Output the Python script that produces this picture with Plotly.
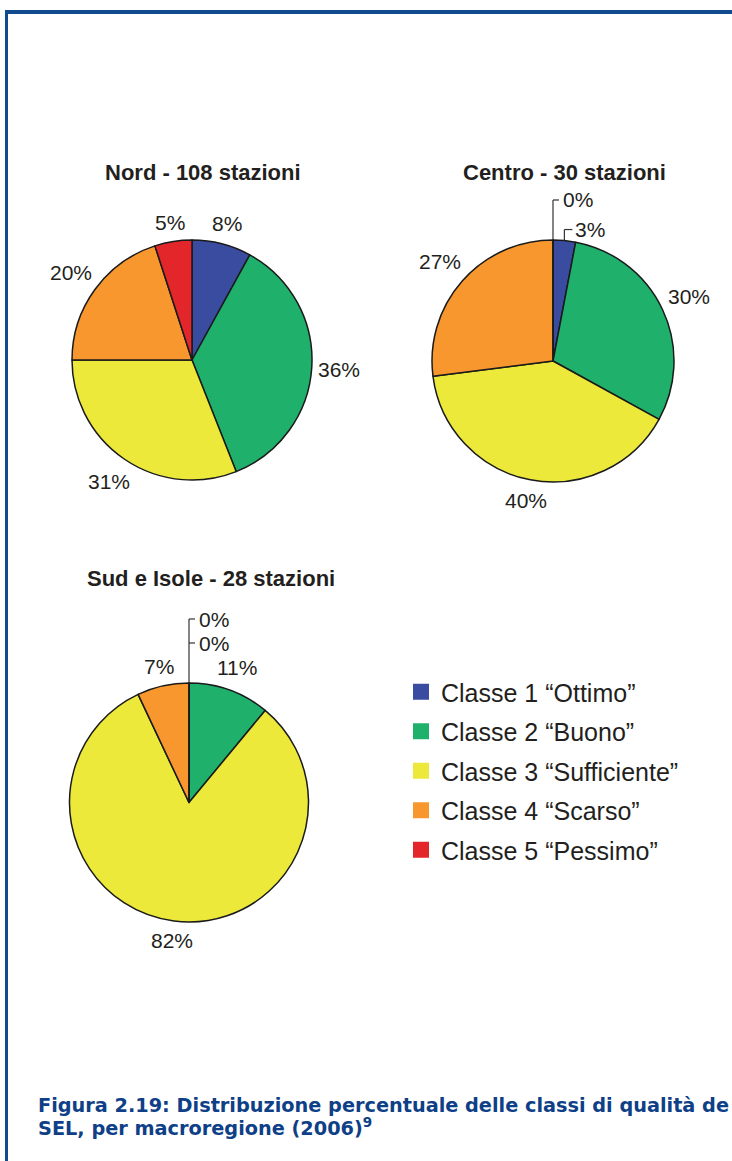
import math
import plotly.graph_objects as go

W, H = 732, 1161

# ---------------- data ----------------
classes = ['Classe 1 “Ottimo”', 'Classe 2 “Buono”', 'Classe 3 “Sufficiente”',
           'Classe 4 “Scarso”', 'Classe 5 “Pessimo”']
colors = ['#3A4C9F', '#1FB06C', '#ECE93B', '#F7972E', '#E3262A']
nord = [8, 36, 31, 20, 5]
centro = [3, 30, 40, 27, 0]
sud = [0, 11, 82, 7, 0]
titles = ['Nord - 108 stazioni', 'Centro - 30 stazioni', 'Sud e Isole - 28 stazioni']
caption1 = 'Figura 2.19: Distribuzione percentuale delle classi di qualità de'
caption2 = 'SEL, per macroregione (2006)<sup>9</sup>'

series = [nord, centro, sud]
# pie boxes in pixels (left, top, right, bottom)
boxes = [(72, 240, 312, 480), (432, 240, 674, 482), (69, 683, 309, 922)]
title_pos = [(203, 173), (564, 172), (211, 578)]

FONT = 'Liberation Sans, Arial, Helvetica, sans-serif'
TXT = '#231F20'
LINE = '#333333'
LBL = 21


def px(x):
    return x / W


def py(y):
    return 1 - y / H


def seg(x0, y0, x1, y1):
    return dict(type='line', xref='paper', yref='paper',
                x0=px(x0), x1=px(x1), y0=py(y0), y1=py(y1),
                line=dict(color=LINE, width=1.2))


def label(x, y, txt, anchor='center'):
    return dict(x=px(x), y=py(y), xref='paper', yref='paper', text=txt,
                showarrow=False, font=dict(family=FONT, size=LBL, color=TXT),
                xanchor=anchor, yanchor='middle')


fig = go.Figure()
shapes = []
annotations = []

for vals, box, title, tp in zip(series, boxes, titles, title_pos):
    l, t, r, b = box
    fig.add_trace(go.Pie(
        values=vals,
        labels=classes,
        textinfo='none',
        marker=dict(colors=colors, line=dict(color='#1A1A1A', width=1.5)),
        sort=False,
        direction='clockwise',
        rotation=0,
        showlegend=False,
        hoverinfo='skip',
        domain=dict(x=[px(l), px(r)], y=[py(b), py(t)]),
    ))
    annotations.append(dict(
        x=px(tp[0]), y=py(tp[1]), xref='paper', yref='paper',
        text=f'<b>{title}</b>', showarrow=False,
        font=dict(family=FONT, size=22, color=TXT),
        xanchor='center', yanchor='middle'))
    cx, cy = (l + r) / 2, (t + b) / 2
    rad = min(r - l, b - t) / 2
    total = sum(vals)

    # percentage labels outside each slice, at the slice's mid angle
    cum = 0
    for v in vals:
        if v > 0:
            txt = f'{v}%'
            ang = 2 * math.pi * (cum + v / 2) / total
            s, c = math.sin(ang), math.cos(ang)
            if v < 5:
                ax, ay = cx + rad * s, cy - rad * c
                shapes.append(seg(ax, ay, ax, ay - 11))
                shapes.append(seg(ax, ay - 11, ax + 8, ay - 11))
                annotations.append(label(ax + 9, ay - 11, txt, 'left'))
            else:
                hw = (len(txt) - 1) * 0.556 * LBL / 2 + 0.889 * LBL / 2
                hh = 11
                d = rad + 6 + abs(s) * hw + abs(c) * hh
                annotations.append(label(cx + d * s, cy - d * c, txt))
        cum += v

    # leader lines for zero-valued classes (stacked above the top of the pie)
    zeros = [i for i, v in enumerate(vals) if v == 0]
    n = len(zeros)
    if n:
        ys = [t - 40 - 24 * (n - 1 - k) for k in range(n)]
        shapes.append(seg(cx, t, cx, min(ys)))
        for k, yy in enumerate(ys):
            shapes.append(seg(cx, yy, cx + 6, yy))
            annotations.append(label(cx + 8, yy, f'{vals[zeros[k]]}%', 'left'))

# legend via marker-only traces
for i, (name, c) in enumerate(zip(classes, colors)):
    fig.add_trace(go.Scatter(
        x=[None], y=[None], mode='markers', name=name, legendgroup=f'g{i}',
        marker=dict(symbol='square', size=16, color=c),
        hoverinfo='skip'))

# caption
CAP_FONT = dict(family='DejaVu Sans, Verdana, sans-serif', size=19.3, color='#0E3F87')
annotations.append(dict(
    x=px(36), y=py(1105), xref='paper', yref='paper', text=f'<b>{caption1}</b>',
    showarrow=False, xanchor='left', yanchor='middle', font=CAP_FONT))
annotations.append(dict(
    x=px(36), y=py(1127), xref='paper', yref='paper', text=f'<b>{caption2}</b>',
    showarrow=False, xanchor='left', yanchor='middle', font=CAP_FONT))

# frame
shapes.append(dict(type='line', xref='paper', yref='paper',
                   x0=px(5), x1=px(740), y0=py(12), y1=py(12),
                   line=dict(color='#124A8E', width=4)))
shapes.append(dict(type='line', xref='paper', yref='paper',
                   x0=px(6.5), x1=px(6.5), y0=py(10), y1=py(1170),
                   line=dict(color='#124A8E', width=3)))

fig.update_layout(
    width=W, height=H,
    margin=dict(l=0, r=0, t=0, b=0),
    paper_bgcolor='white', plot_bgcolor='white',
    xaxis=dict(visible=False), yaxis=dict(visible=False),
    showlegend=True,
    legend=dict(x=px(401), y=py(669), xanchor='left', yanchor='top',
                font=dict(family=FONT, size=25, color=TXT),
                tracegroupgap=4,
                bgcolor='rgba(0,0,0,0)', itemclick=False, itemdoubleclick=False),
    shapes=shapes,
    annotations=annotations,
)

fig.write_html('out.html', config={'displayModeBar': False},
               post_script="document.body.style.margin='0';")
